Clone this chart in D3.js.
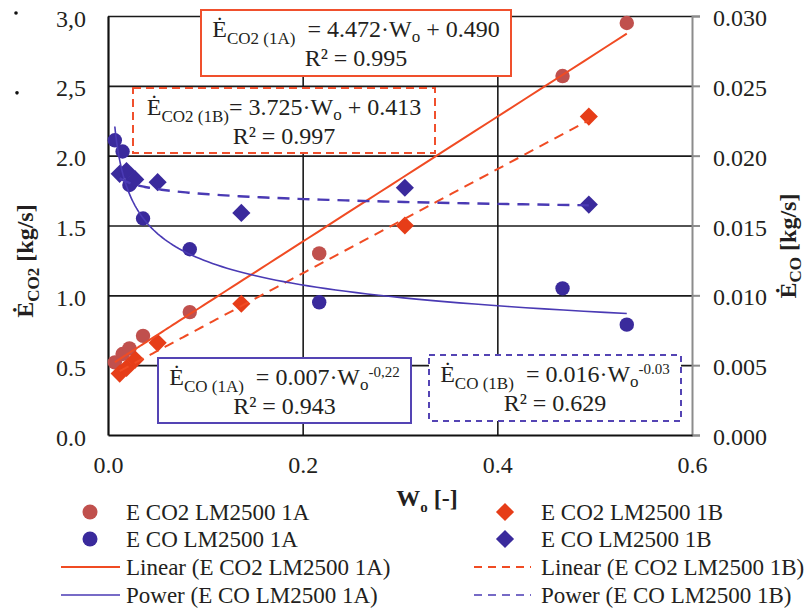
<!DOCTYPE html>
<html>
<head>
<meta charset="utf-8">
<script src="https://cdn.jsdelivr.net/npm/d3@7"></script>
<style>
  body { margin: 0; background: #fff; }
  svg text { font-family: 'Liberation Serif', 'Times New Roman', serif; fill: #231f20; }
</style>
</head>
<body>
<svg id="chart" width="808" height="608"></svg>
<script>
// W_o of the two test runs
var woA = [0.007, 0.015, 0.022, 0.036, 0.084, 0.217, 0.467, 0.533]
var woB = [0.012, 0.019, 0.028, 0.051, 0.137, 0.305, 0.494]
// CO2 emission [kg/s]
var co2A = [0.52, 0.58, 0.62, 0.71, 0.88, 1.30, 2.57, 2.95]
var co2B = [0.44, 0.48, 0.54, 0.66, 0.94, 1.50, 2.28]
// CO emission [kg/s]
var coA = [0.0211, 0.0203, 0.0179, 0.0155, 0.0133, 0.0095, 0.0105, 0.0079]
var coB = [0.0187, 0.0189, 0.0183, 0.0181, 0.0159, 0.0177, 0.0165]
// trend coefficients, linear [slope, intercept], power [a, b]
var linA = [4.472, 0.490]
var linB = [3.725, 0.413]
var powA = [0.0076, -0.215]
var powB = [0.0161, -0.03]
// ticks
var xTicks = [0, 0.2, 0.4, 0.6]
var xTickLabels = ['0.0', '0.2', '0.4', '0.6']
var yTicks = [0, 0.5, 1, 1.5, 2, 2.5, 3]
var yTickLabels = ['0.0', '0.5', '1.0', '1.5', '2.0', '2,5', '3,0']
var y2Ticks = [0, 0.005, 0.01, 0.015, 0.02, 0.025, 0.03]
var y2TickLabels = ['0.000', '0.005', '0.010', '0.015', '0.020', '0.025', '0.030']
// legend labels
var legendLabels = ['E CO2 LM2500 1A', 'E CO2 LM2500 1B', 'E CO LM2500 1A', 'E CO LM2500 1B',
  'Linear (E CO2 LM2500 1A)', 'Linear (E CO2 LM2500 1B)', 'Power (E CO LM2500 1A)', 'Power (E CO LM2500 1B)']
// equation texts [main, sub, main, sub, main, sup]
var eqCO2A = ['Ė', 'CO2 (1A)', '  = 4.472·W', 'o', ' + 0.490', '']
var eqCO2B = ['Ė', 'CO2 (1B)', '= 3.725·W', 'o', ' + 0.413', '']
var eqCOA = ['Ė', 'CO (1A)', '  = 0.007·W', 'o', '', '-0,22']
var eqCOB = ['Ė', 'CO (1B)', '  = 0.016·W', 'o', '', '-0.03']
var r2Labels = ['R² = 0.995', 'R² = 0.997', 'R² = 0.943', 'R² = 0.629']

var red = '#c0504d'
var orange = '#e63d18'
var redLine = '#f04b23'
var blue = '#3a2a9c'
var blueLine = '#4a3ab4'

var svg = d3.select('#chart')
var x = d3.scaleLinear().domain([0, 0.6]).range([108, 692])
var y = d3.scaleLinear().domain([0, 3]).range([435, 16])
var y2 = d3.scaleLinear().domain([0, 0.03]).range([435, 16])

// grid lines
svg.append('g')
  .attr('transform', 'translate(108,0)')
  .call(d3.axisLeft(y).tickValues(yTicks.slice(1)).tickSize(-584).tickFormat(''))
  .call(g => g.select('.domain').remove())
  .selectAll('line').attr('stroke', '#1a1a1a').attr('stroke-width', 1.6)
svg.append('g')
  .attr('transform', 'translate(0,435)')
  .call(d3.axisBottom(x).tickValues([0.2, 0.4]).tickSize(-419).tickFormat(''))
  .call(g => g.select('.domain').remove())
  .selectAll('line').attr('stroke', '#1a1a1a').attr('stroke-width', 1.6)

// left axis
var yAxis = svg.append('g')
  .attr('transform', 'translate(108,0)')
  .call(d3.axisLeft(y).tickValues(yTicks).tickSize(0).tickPadding(22)
    .tickFormat((d, i) => yTickLabels[i]))
yAxis.select('.domain').attr('stroke', '#111').attr('stroke-width', 2.2)
yAxis.selectAll('text').style('font-size', '24px').attr('dy', '0.42em')

// right axis
var y2Axis = svg.append('g')
  .attr('transform', 'translate(692,0)')
  .call(d3.axisRight(y2).tickValues(y2Ticks).tickSize(8).tickPadding(13)
    .tickFormat((d, i) => y2TickLabels[i]))
y2Axis.select('.domain').attr('stroke', '#8c8c8c').attr('stroke-width', 2)
y2Axis.selectAll('line').attr('stroke', '#8c8c8c').attr('stroke-width', 2)
y2Axis.selectAll('text').style('font-size', '24px').attr('dy', '0.4em')

// bottom axis
var xAxis = svg.append('g')
  .attr('transform', 'translate(0,435)')
  .call(d3.axisBottom(x).tickValues(xTicks).tickSize(0).tickPadding(21)
    .tickFormat((d, i) => xTickLabels[i]))
xAxis.select('.domain').attr('stroke', '#111').attr('stroke-width', 2.2)
xAxis.selectAll('text').style('font-size', '24px')

// stray dots left of the axis
svg.append('circle').attr('cx', 16).attr('cy', y(3) - 3).attr('r', 1.8).attr('fill', '#111')
svg.append('circle').attr('cx', 17).attr('cy', y(2.5) + 7).attr('r', 1.8).attr('fill', '#111')

// markers
var diamond = d3.symbol().type(d3.symbolSquare).size(165)
function circles (xs, ys, scale, color) {
  svg.append('g').selectAll('circle')
    .data(xs)
    .join('circle')
    .attr('cx', d => x(d))
    .attr('cy', (d, i) => scale(ys[i]))
    .attr('r', 7.2)
    .attr('fill', color)
}
function diamonds (xs, ys, scale, color) {
  svg.append('g').selectAll('path')
    .data(xs)
    .join('path')
    .attr('d', diamond)
    .attr('transform', (d, i) => 'translate(' + x(d) + ',' + scale(ys[i]) + ') rotate(45)')
    .attr('fill', color)
}
circles(woA, co2A, y, red)
diamonds(woB, co2B, y, orange)
circles(woA, coA, y2, blue)
diamonds(woB, coB, y2, blue)

// trend lines
function trend (xs, f, scale, color, width, dash) {
  var lo = d3.min(xs)
  var hi = d3.max(xs)
  var pts = d3.range(0, 101).map(k => lo * Math.pow(hi / lo, k / 100))
  svg.append('path')
    .datum(pts)
    .attr('fill', 'none')
    .attr('stroke', color)
    .attr('stroke-width', width)
    .attr('stroke-dasharray', dash)
    .attr('d', d3.line().x(d => x(d)).y(d => scale(f(d))))
}
trend(woA, d => linA[0] * d + linA[1], y, redLine, 2, null)
trend(woB, d => linB[0] * d + linB[1], y, redLine, 2, '10,7')
trend(woA, d => powA[0] * Math.pow(d, powA[1]), y2, blueLine, 1.6, null)
trend(woB, d => powB[0] * Math.pow(d, powB[1]), y2, blueLine, 2.4, '12,8')

// equation boxes
function eqBox (bx, by, bw, bh, color, dash, eq, r2) {
  var g = svg.append('g')
  g.append('rect')
    .attr('x', bx).attr('y', by).attr('width', bw).attr('height', bh)
    .attr('fill', '#fff')
    .attr('stroke', color)
    .attr('stroke-width', 2)
    .attr('stroke-dasharray', dash)
  var cx = bx + bw / 2
  var t = g.append('text')
    .attr('x', cx).attr('y', by + 27)
    .attr('text-anchor', 'middle')
    .style('font-size', '24px')
    .style('white-space', 'pre')
  t.append('tspan').text(eq[0])
  t.append('tspan').attr('dy', 7).style('font-size', '17px').text(eq[1])
  t.append('tspan').attr('dy', -7).text(eq[2])
  t.append('tspan').attr('dy', 5).style('font-size', '17px').text(eq[3])
  if (eq[4]) t.append('tspan').attr('dy', -5).text(eq[4])
  if (eq[5]) t.append('tspan').attr('dy', -13).style('font-size', '15px').text(eq[5])
  g.append('text')
    .attr('x', cx).attr('y', by + 56)
    .attr('text-anchor', 'middle')
    .style('font-size', '24px')
    .text(r2)
}
eqBox(201, 10, 310, 66, '#f0502d', null, eqCO2A, r2Labels[0])
eqBox(133, 88, 302, 65, '#f0502d', '8,5', eqCO2B, r2Labels[1])
eqBox(158, 358, 253, 65, '#5444b4', null, eqCOA, r2Labels[2])
eqBox(429, 355, 252, 66, '#5444b4', '6,5', eqCOB, r2Labels[3])

// axis titles
var ty = svg.append('text')
  .attr('transform', 'translate(33,261) rotate(-90)')
  .attr('text-anchor', 'middle')
  .style('font-size', '24px')
  .style('font-weight', 'bold')
ty.append('tspan').text('Ė')
ty.append('tspan').attr('dy', 6).style('font-size', '17px').text('CO2')
ty.append('tspan').attr('dy', -6).text(' [kg/s]')

var ty2 = svg.append('text')
  .attr('transform', 'translate(796,246) rotate(-90)')
  .attr('text-anchor', 'middle')
  .style('font-size', '24px')
  .style('font-weight', 'bold')
ty2.append('tspan').text('Ė')
ty2.append('tspan').attr('dy', 5).style('font-size', '17px').text('CO')
ty2.append('tspan').attr('dy', -5).text(' [kg/s]')

var tx = svg.append('text')
  .attr('x', 427).attr('y', 506)
  .attr('text-anchor', 'middle')
  .style('font-size', '24px')
  .style('font-weight', 'bold')
tx.append('tspan').text('W')
tx.append('tspan').attr('dy', 6).style('font-size', '15px').text('o')
tx.append('tspan').attr('dy', -6).text(' [-]')

// legend
var legend = svg.append('g')
var rows = [512, 539, 567, 595]
var cols = [[90, 61, 120, 126], [505, 474, 531, 541]]
legendLabels.forEach(function (label, i) {
  var c = cols[i % 2]
  var r = rows[Math.floor(i / 2)]
  var kind = Math.floor(i / 2)
  if (kind === 0 && i % 2 === 0) legend.append('circle').attr('cx', c[0]).attr('cy', r).attr('r', 7.5).attr('fill', red)
  if (kind === 0 && i % 2 === 1) legend.append('path').attr('d', diamond).attr('transform', 'translate(' + c[0] + ',' + r + ') rotate(45)').attr('fill', orange)
  if (kind === 1 && i % 2 === 0) legend.append('circle').attr('cx', c[0]).attr('cy', r).attr('r', 7.5).attr('fill', blue)
  if (kind === 1 && i % 2 === 1) legend.append('path').attr('d', diamond).attr('transform', 'translate(' + c[0] + ',' + r + ') rotate(45)').attr('fill', blue)
  if (kind >= 2) {
    legend.append('line')
      .attr('x1', c[1]).attr('x2', c[2]).attr('y1', r).attr('y2', r)
      .attr('stroke', kind === 2 ? redLine : blueLine)
      .attr('stroke-width', kind === 2 ? 2 : 1.6)
      .attr('stroke-dasharray', i % 2 === 1 ? '8,6' : null)
  }
  legend.append('text')
    .attr('x', c[3]).attr('y', r + 8)
    .style('font-size', '23px')
    .text(label)
})
</script>
</body>
</html>
